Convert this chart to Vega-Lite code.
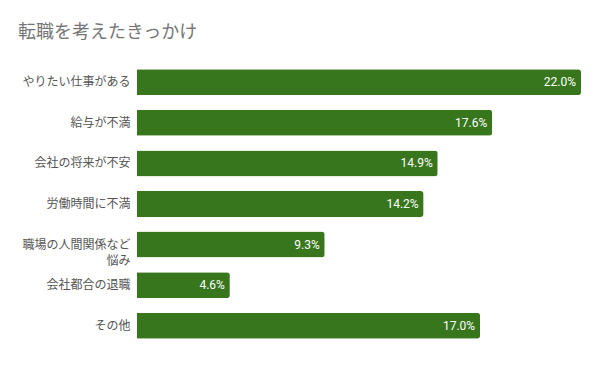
{
  "$schema": "https://vega.github.io/schema/vega-lite/v6.json",
  "autosize": "none",
  "width": 444,
  "height": 284,
  "padding": {"left": 137, "top": 62, "right": 19, "bottom": 25},
  "background": "white",
  "config": {"view": {"stroke": null}, "font": "Roboto, Noto Sans CJK JP"},
  "title": {
    "text": "転職を考えたきっかけ",
    "anchor": "start",
    "frame": "group",
    "dx": -119,
    "offset": 20,
    "fontSize": 18,
    "fontWeight": "normal",
    "color": "#757575",
    "font": "Noto Sans CJK JP"
  },
  "data": {
    "values": [
      {"reason": "やりたい仕事がある", "value": 22.0},
      {"reason": "給与が不満", "value": 17.6},
      {"reason": "会社の将来が不安", "value": 14.9},
      {"reason": "労働時間に不満", "value": 14.2},
      {"reason": "職場の人間関係など悩み", "value": 9.3},
      {"reason": "会社都合の退職", "value": 4.6},
      {"reason": "その他", "value": 17.0}
    ]
  },
  "transform": [{"calculate": "format(datum.value, '.1f') + '%'", "as": "label"}],
  "encoding": {
    "y": {
      "field": "reason",
      "type": "nominal",
      "sort": null,
      "scale": {"paddingInner": 0.36, "paddingOuter": 0.18},
      "axis": {
        "title": null,
        "domain": false,
        "ticks": false,
        "labelPadding": 7,
        "labelFontSize": 12,
        "labelColor": "#555555",
        "labelFont": "Noto Sans CJK JP",
        "labelLineHeight": 16,
        "labelLimit": 200,
        "labelExpr": "datum.value == '職場の人間関係など悩み' ? ['職場の人間関係など', '悩み'] : datum.value"
      }
    },
    "x": {
      "field": "value",
      "type": "quantitative",
      "scale": {"domain": [0, 22], "nice": false},
      "axis": null
    }
  },
  "layer": [
    {"mark": {"type": "bar", "color": "#38761d", "cornerRadiusEnd": 3}},
    {
      "mark": {"type": "text", "align": "right", "dx": -5, "color": "white", "fontSize": 12, "font": "Roboto"},
      "encoding": {"text": {"field": "label"}}
    }
  ]
}
